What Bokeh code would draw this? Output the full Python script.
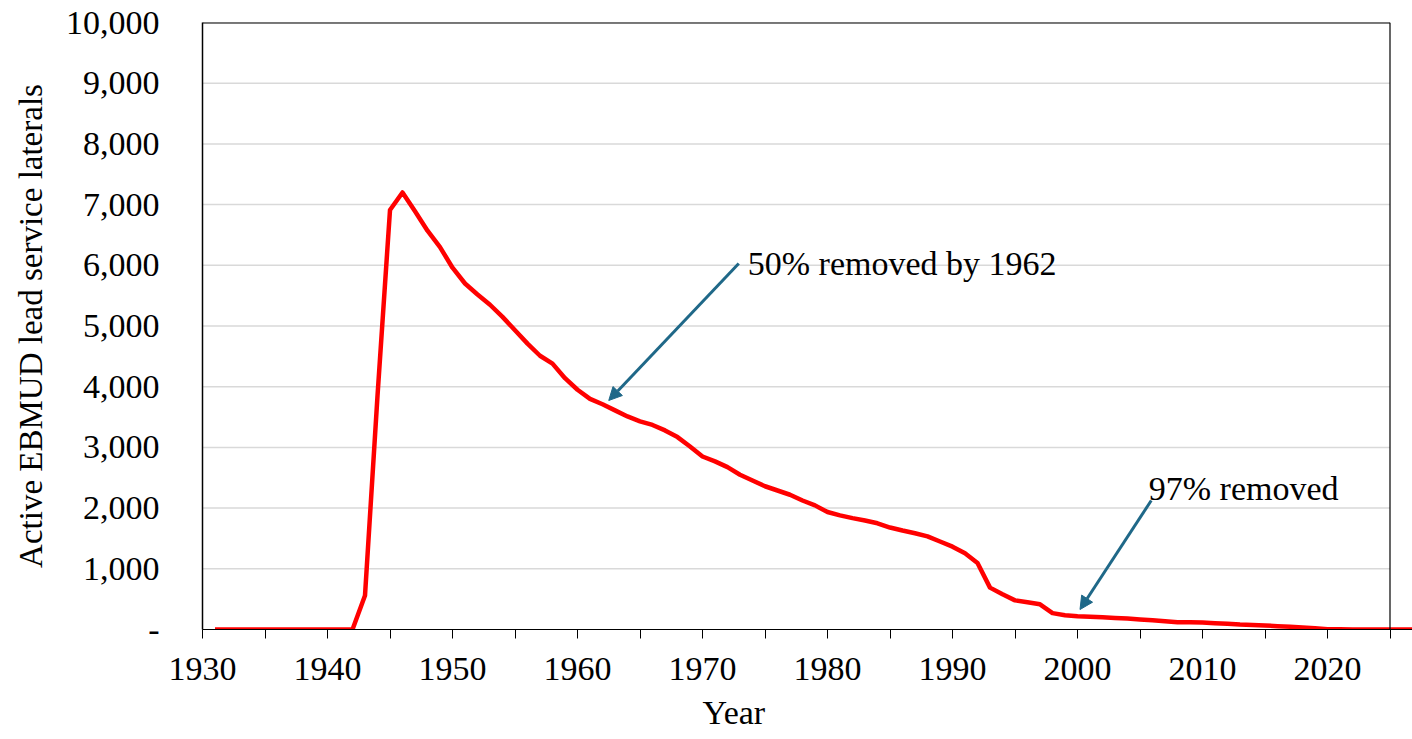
from bokeh.plotting import figure
from bokeh.models import (Range1d, FixedTicker, NumeralTickFormatter, Label, Arrow,
                          NormalHead, Span, ColumnDataSource, Title)
from bokeh.embed import file_html
from bokeh.resources import INLINE

# ---------------- data ----------------
years = list(range(1931, 2028))
laterals = [
    0, 0, 0, 0, 0, 0, 0, 0, 0, 0, 0, 0,            # 1931-1942
    560, 3850, 6910, 7200, 6890, 6570, 6300,         # 1943-1949
    5960, 5700, 5520, 5350, 5150, 4930, 4710, 4510, 4380, 4140,   # 1950-1959
    3950, 3800, 3710, 3610, 3510, 3430, 3370, 3280, 3170, 3015,   # 1960-1969
    2850, 2770, 2675, 2550, 2455, 2360, 2290, 2220, 2125, 2045,   # 1970-1979
    1935, 1880, 1835, 1795, 1750, 1680, 1630, 1585, 1535, 1450,   # 1980-1989
    1365, 1255, 1095, 690, 580, 480, 450, 415, 270, 236,          # 1990-1999
    219, 209, 200, 190, 180, 165, 154, 137, 121, 120,             # 2000-2009
    115, 104, 93, 82, 76, 66, 55, 44, 33, 22,                     # 2010-2019
    5, 3, 2, 1, 0, 0, 0, 0,                                       # 2020-2027
]
x_major_ticks = [1930, 1940, 1950, 1960, 1970, 1980, 1990, 2000, 2010, 2020]
x_minor_ticks = [1935, 1945, 1955, 1965, 1975, 1985, 1995, 2005, 2015, 2025]
y_ticks = [0, 1000, 2000, 3000, 4000, 5000, 6000, 7000, 8000, 9000, 10000]
y_title = "Active EBMUD lead service laterals"
x_title = "Year"
note_1962 = "50% removed by 1962"
note_97 = "97% removed"

FONT = "Liberation Serif"
ARROW_C = "#1F6888"
X_END_FRAME = 2025  # right border of the plotted box

p = figure(width=1412, height=739, output_backend="svg", toolbar_location=None,
           x_range=Range1d(1930, 2026.8), y_range=Range1d(0, 10000),
           min_border_left=202, min_border_right=0, min_border_top=22,
           min_border_bottom=110)
p.outline_line_color = None
p.xgrid.visible = False
p.ygrid.visible = False
p.background_fill_color = "white"
p.border_fill_color = "white"

# grid lines (ending at the box's right border)
grid_y = y_ticks[1:]
p.segment(x0=[1930] * len(grid_y), x1=[X_END_FRAME] * len(grid_y), y0=grid_y, y1=grid_y,
          line_color="#D9D9D9", line_width=1.5)
# box border: top and right
p.segment(x0=[1930], x1=[X_END_FRAME], y0=[y_ticks[-1]], y1=[y_ticks[-1]],
          line_color="black", line_width=2)
p.add_layout(Span(location=X_END_FRAME, dimension="height", line_color="black", line_width=1.2))

# data line
src = ColumnDataSource(dict(year=years, n=laterals))
p.line("year", "n", source=src, line_color="#FF0000", line_width=4.5, line_join="round")

# axes
xa = p.xaxis[0]
xa.ticker = FixedTicker(ticks=x_major_ticks, minor_ticks=x_minor_ticks)
xa.axis_line_color = "black"
xa.axis_line_width = 1.2
xa.major_tick_line_color = "black"
xa.minor_tick_line_color = "black"
xa.major_tick_in = 0
xa.minor_tick_in = 0
xa.major_tick_out = 9
xa.minor_tick_out = 9
xa.major_label_standoff = 19
xa.major_label_text_font = FONT
xa.major_label_text_font_size = "34px"
xa.major_label_text_color = "black"

ya = p.yaxis[0]
ya.ticker = FixedTicker(ticks=y_ticks)
ya.formatter = NumeralTickFormatter(format="0,0")
ya.major_label_overrides = {0: "-"}
ya.axis_line_color = "black"
ya.axis_line_width = 1.5
ya.major_tick_out = 0
ya.major_tick_in = 0
ya.minor_tick_out = 0
ya.minor_tick_in = 0
ya.major_label_standoff = 43
ya.major_label_text_font = FONT
ya.major_label_text_font_size = "34px"
ya.major_label_text_color = "black"
ya.axis_label = y_title
ya.axis_label_text_font = FONT
ya.axis_label_text_font_size = "33px"
ya.axis_label_text_font_style = "normal"
ya.axis_label_text_color = "black"
ya.axis_label_standoff = 14

# x title as a left-aligned title below the axis, shifted to its place
p.add_layout(Title(text=x_title, align="left", offset=500, text_font=FONT,
                   text_font_size="34px", text_font_style="normal",
                   text_color="black", standoff=18), "below")

# annotations
p.add_layout(Label(x=1973.62, y=6033, text=note_1962, text_align="left",
                   text_baseline="alphabetic", text_font=FONT,
                   text_font_size="34px", text_color="black"))
p.add_layout(Label(x=2005.7, y=2324, text=note_97, text_align="left",
                   text_baseline="alphabetic", text_font=FONT,
                   text_font_size="34px", text_color="black"))
p.add_layout(Arrow(end=NormalHead(size=13, fill_color=ARROW_C, line_color=ARROW_C),
                   x_start=1972.9, y_start=6030, x_end=1962.5, y_end=3773,
                   line_color=ARROW_C, line_width=3))
p.add_layout(Arrow(end=NormalHead(size=13, fill_color=ARROW_C, line_color=ARROW_C),
                   x_start=2005.9, y_start=2125, x_end=2000.2, y_end=329,
                   line_color=ARROW_C, line_width=3))

open("out.html", "w").write(file_html(p, INLINE))
